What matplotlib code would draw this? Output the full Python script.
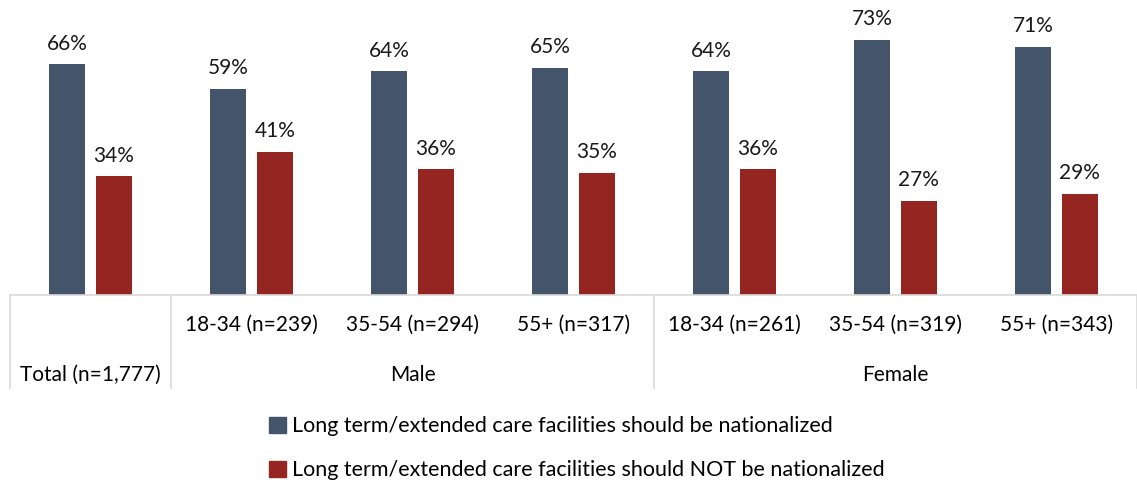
import matplotlib.pyplot as plt
import numpy as np
from matplotlib.patches import Patch

# data
categories = ['Total (n=1,777)', '18-34 (n=239)', '35-54 (n=294)', '55+ (n=317)',
              '18-34 (n=261)', '35-54 (n=319)', '55+ (n=343)']
groups = ['Male', 'Female']
nationalized = [66, 59, 64, 65, 64, 73, 71]
not_nationalized = [34, 41, 36, 35, 36, 27, 29]
series_names = ['Long term/extended care facilities should be nationalized',
                'Long term/extended care facilities should NOT be nationalized']

blue = '#44546A'
red = '#942521'
grid_col = '#D9D9D9'
fs = 15

plt.rcParams['font.family'] = ['Lato', 'DejaVu Sans']

fig = plt.figure(figsize=(11.37, 4.83), dpi=100)
ax = fig.add_axes([10 / 1137, 1 - 295 / 483, 1127 / 1137, 295 / 483])

x = np.arange(len(categories))
w = 0.225
off = 0.145
b1 = ax.bar(x - off, nationalized, w, color=blue)
b2 = ax.bar(x + off, not_nationalized, w, color=red)

for bars, vals in [(b1, nationalized), (b2, not_nationalized)]:
    for b, v in zip(bars, vals):
        ax.text(b.get_x() + b.get_width() / 2, v + 2.9, f'{v}%',
                ha='center', va='bottom', fontsize=fs, color='#1a1a1a')

ax.set_xlim(-0.5, len(categories) - 0.5)
ax.set_ylim(0, 295 / 3.5)
ax.set_xticks([])
ax.set_yticks([])
for s in ['top', 'left', 'right']:
    ax.spines[s].set_visible(False)
ax.spines['bottom'].set_color(grid_col)
ax.spines['bottom'].set_linewidth(1.2)

# category table below the axis
tr = ax.get_xaxis_transform()
for xv in [-0.5, 0.5, 3.5, 6.5]:
    ax.plot([xv, xv], [0, -0.315], transform=tr, color=grid_col, lw=1.2, clip_on=False)

ax.text(0, -0.272, categories[0], transform=tr, ha='center', va='center', fontsize=fs)
for i in range(1, len(categories)):
    ax.text(i, -0.102, categories[i], transform=tr, ha='center', va='center', fontsize=fs)
ax.text(2, -0.272, groups[0], transform=tr, ha='center', va='center', fontsize=fs)
ax.text(5, -0.272, groups[1], transform=tr, ha='center', va='center', fontsize=fs)

handles = [Patch(color=blue), Patch(color=red)]
fig.legend(handles, series_names, loc='upper left', bbox_to_anchor=(250 / 1137, 1 - 397 / 483),
           frameon=False, fontsize=15.5, handlelength=0.75, handleheight=0.75,
           handletextpad=0.3, labelspacing=1.12)

fig.savefig('out.png', dpi=100)
